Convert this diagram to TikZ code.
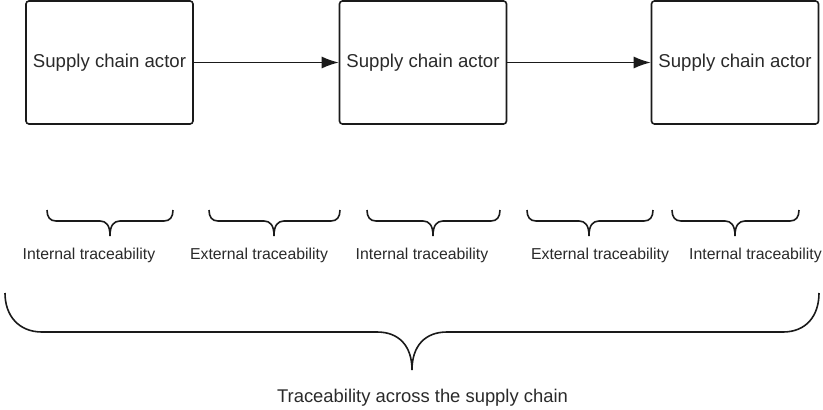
\documentclass[tikz,border=0pt]{standalone}
\usepackage{fontspec}
\setmainfont{Liberation Sans}
\usetikzlibrary{arrows.meta}
\definecolor{txt}{HTML}{2A2A2A}
\definecolor{ln}{HTML}{1A1A1A}
\tikzset{
  actor/.style={draw=ln, line width=1.6pt, rounded corners=3pt, minimum width=167pt, minimum height=123pt, inner sep=0pt, text=txt, font=\fontsize{18.6}{22}\selectfont},
  flow/.style={draw=ln, line width=1.3pt, -{Latex[length=17pt,width=12pt]}},
  brace/.style={draw=ln, line width=1.6pt},
  lab/.style={text=txt, inner sep=0pt, font=\fontsize{15.8}{19}\selectfont},
  biglab/.style={text=txt, inner sep=0pt, font=\fontsize{18.4}{22}\selectfont}
}
\begin{document}
\begin{tikzpicture}[x=1pt,y=-1pt]
\useasboundingbox (0,0) rectangle (823,410);
\fill[white] (0,0) rectangle (823,410);
\node[actor] (a1) at (109.5,62.5) {Supply chain actor};
\node[actor] (a2) at (423,62.5) {Supply chain actor};
\node[actor] (a3) at (735,62.5) {Supply chain actor};
\draw[flow] (a1) -- (a2);
\draw[flow] (a2) -- (a3);
% small braces
\foreach \xl/\xc/\xr in {47/110/173, 209/274/340, 367/433/500, 527/589/653, 672/735/799}{
  \draw[brace] (\xl,210) .. controls (\xl,217) and (\xl+3,221) .. (\xl+9,221)
    -- (\xc-10,221) .. controls (\xc-4,221) and (\xc,225) .. (\xc,236)
    .. controls (\xc,225) and (\xc+4,221) .. (\xc+10,221)
    -- (\xr-9,221) .. controls (\xr-3,221) and (\xr,217) .. (\xr,210);
}
\node[lab] (l1) at (89,255) {Internal traceability};
\node[lab] (l2) at (259,255) {External traceability};
\node[lab] (l3) at (422,255) {Internal traceability};
\node[lab] (l4) at (600,255) {External traceability};
\node[lab] (l5) at (755.5,255) {Internal traceability};
% big brace
\draw[brace] (5,293) .. controls (5,316) and (19,332) .. (42,332)
  -- (377,332) .. controls (399,332) and (412,346) .. (412,370)
  .. controls (412,346) and (425,332) .. (447,332)
  -- (783,332) .. controls (806,332) and (819,316) .. (819,293);
\node[biglab] (t) at (422.5,398) {Traceability across the supply chain};
\end{tikzpicture}
\end{document}
